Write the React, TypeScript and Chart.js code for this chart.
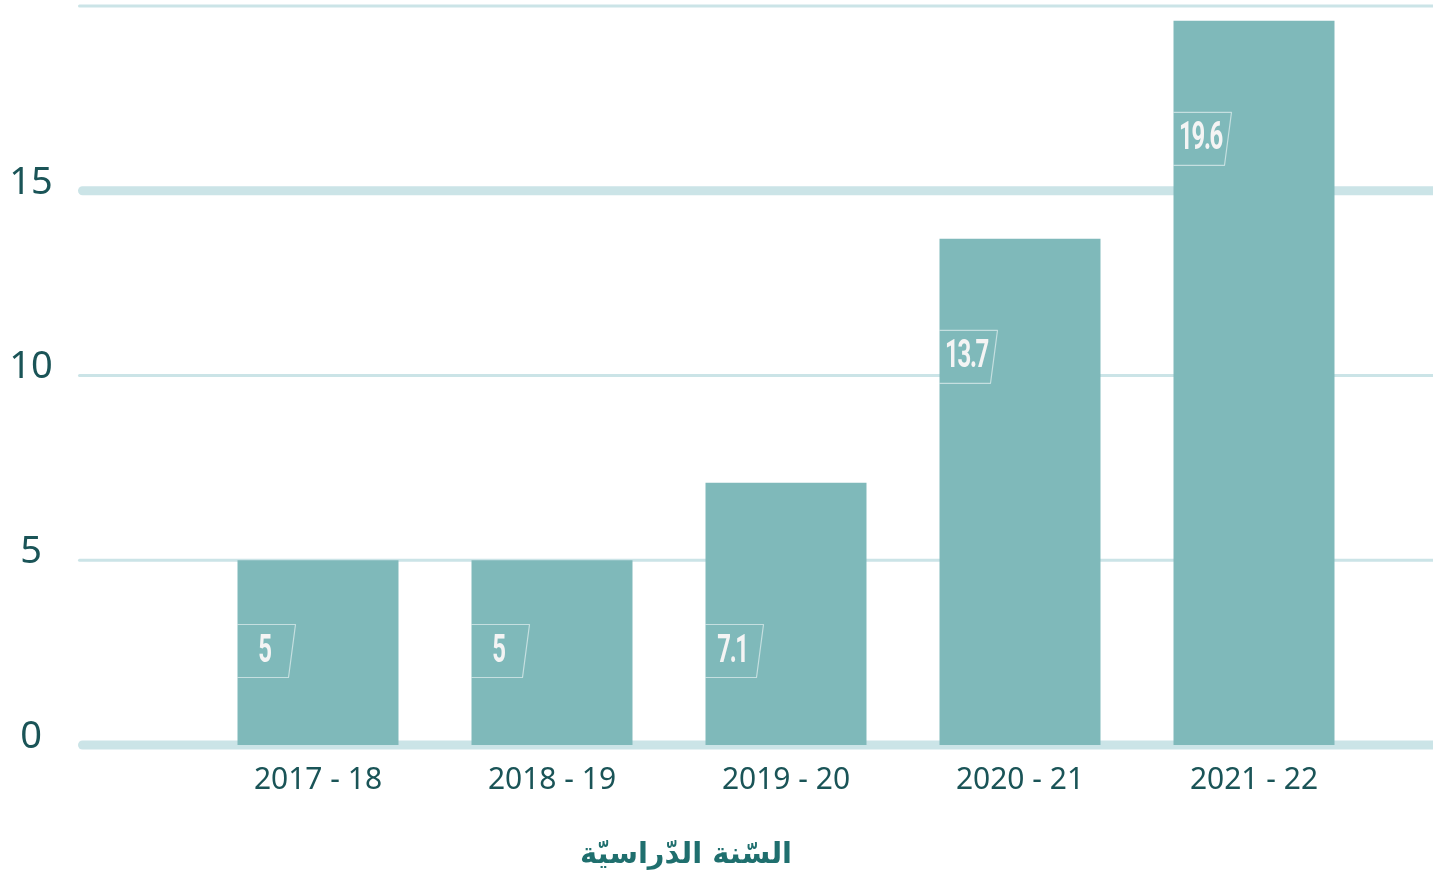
import React, { useEffect, useRef } from "react";
import { Chart, registerables } from "chart.js";

Chart.register(...registerables);

const categories = ["2017 - 18", "2018 - 19", "2019 - 20", "2020 - 21", "2021 - 22"];
const values = [5, 5, 7.1, 13.7, 19.6];
const valueLabels = ["5", "5", "7.1", "13.7", "19.6"];
const gridValues = [0, 5, 10, 15, 20];
const thickGridValues = [0, 15];
const yTickLabels = [0, 5, 10, 15];
const axisTitle = "السّنة الدّراسيّة";

const BAR_COLOR = "#7fb9ba";
const GRID_COLOR = "#cbe4e7";
const TICK_COLOR = "#1a5457";
const TITLE_COLOR = "#1f6f6e";

const customPlugin = {
  id: "customDecor",
  beforeDatasetsDraw(chart: any) {
    const ctx = chart.ctx;
    const y = chart.scales.y;
    ctx.save();
    gridValues.forEach((v) => {
      const py = y.getPixelForValue(v);
      const w = thickGridValues.includes(v) ? 9 : 3;
      ctx.strokeStyle = GRID_COLOR;
      ctx.lineWidth = w;
      ctx.lineCap = "round";
      ctx.beginPath();
      ctx.moveTo(78 + w / 2, py);
      ctx.lineTo(chart.width + 20, py);
      ctx.stroke();
    });
    ctx.fillStyle = TICK_COLOR;
    ctx.font = '38px "Noto Sans"';
    ctx.textAlign = "center";
    ctx.textBaseline = "middle";
    yTickLabels.forEach((v) => {
      ctx.fillText(String(v), 31, y.getPixelForValue(v) - 8);
    });
    ctx.restore();
  },
  afterDatasetsDraw(chart: any) {
    const ctx = chart.ctx;
    const y = chart.scales.y;
    const meta = chart.getDatasetMeta(0);
    ctx.save();
    meta.data.forEach((bar: any, i: number) => {
      const left = bar.x - bar.width / 2;
      const v = values[i];
      const cy = v < 10 ? y.getPixelForValue(0) - 94 : bar.y + 118;
      const h = 53;
      ctx.strokeStyle = "rgba(255,255,255,0.55)";
      ctx.lineWidth = 1.2;
      ctx.lineJoin = "round";
      ctx.beginPath();
      ctx.moveTo(left, cy - h / 2);
      ctx.lineTo(left + 58, cy - h / 2);
      ctx.lineTo(left + 51, cy + h / 2);
      ctx.lineTo(left, cy + h / 2);
      ctx.stroke();
      ctx.fillStyle = "#f4f4f4";
      ctx.font = 'bold 38px Roboto';
      (ctx as any).letterSpacing = "-2px";
      ctx.textAlign = "center";
      ctx.textBaseline = "middle";
      ctx.save();
      ctx.translate(left + 27, cy + 1);
      ctx.scale(0.63, 1);
      ctx.fillText(valueLabels[i], 0, 0);
      ctx.restore();
    });
    ctx.restore();
  },
  afterDraw(chart: any) {
    const ctx = chart.ctx;
    ctx.save();
    ctx.fillStyle = TITLE_COLOR;
    ctx.font = 'bold 29px "DejaVu Sans"';
    ctx.textAlign = "center";
    ctx.textBaseline = "middle";
    ctx.direction = "rtl";
    ctx.fillText(axisTitle, 686, 855);
    ctx.restore();
  },
};

export default function App() {
  const ref = useRef<HTMLCanvasElement | null>(null);
  useEffect(() => {
    if (!ref.current) return;
    const chart = new Chart(ref.current, {
      type: "bar",
      data: {
        labels: categories,
        datasets: [
          {
            data: values,
            backgroundColor: BAR_COLOR,
            borderWidth: 0,
            barPercentage: 0.688,
            categoryPercentage: 1,
          },
        ],
      },
      options: {
        animation: false,
        responsive: true,
        maintainAspectRatio: false,
        layout: { padding: { left: 201, right: 62, top: 6, bottom: 70 } },
        plugins: { legend: { display: false }, tooltip: { enabled: false } },
        scales: {
          x: {
            grid: { display: false },
            border: { display: false },
            ticks: {
              color: TICK_COLOR,
              font: { family: '"Noto Sans"', size: 30 },
              padding: 9,
              maxRotation: 0,
            },
          },
          y: {
            display: false,
            min: 0,
            max: 20,
          },
        },
      },
      plugins: [customPlugin],
    });
    return () => chart.destroy();
  }, []);
  return (
    <div style={{ position: "fixed", left: 0, top: 0, width: 1433, height: 877, background: "#fff" }}>
      <canvas ref={ref} />
    </div>
  );
}
